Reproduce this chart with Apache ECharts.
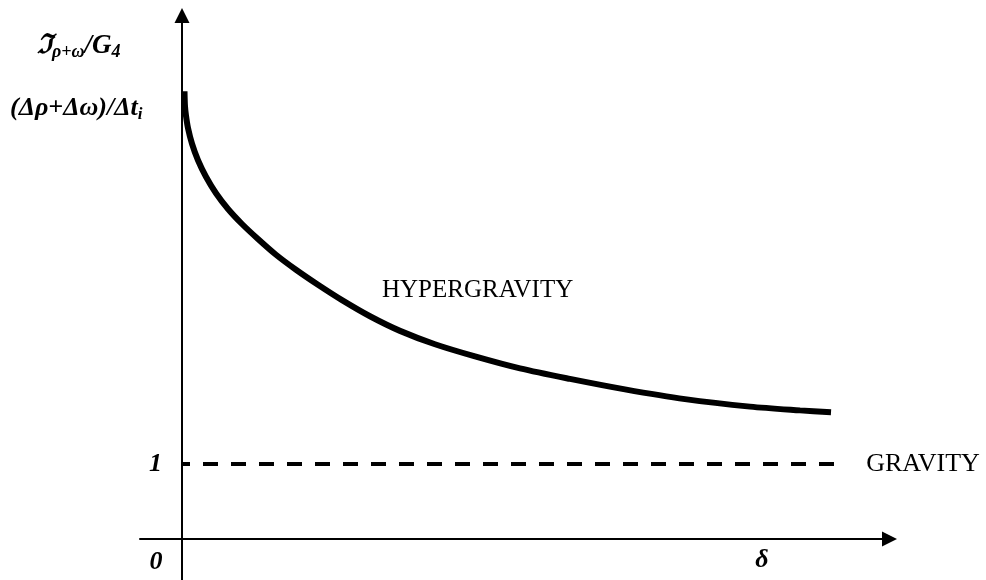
<!DOCTYPE html>
<html>
<head>
<meta charset="utf-8">
<script src="https://cdn.jsdelivr.net/npm/echarts@6/dist/echarts.min.js"></script>
<style>
  html, body { margin: 0; padding: 0; background: #fff; }
  #chart { width: 986px; height: 580px; }
</style>
</head>
<body>
<div id="chart"></div>
<script>
// Decay of the combined rate toward the gravity level as delta grows
const curveX = [0.0385, 0.046, 0.062, 0.092, 0.154, 0.246, 0.369, 0.523, 0.708, 0.923,
                1.169, 1.446, 1.754, 2.092, 2.462, 2.892, 3.354, 3.892, 4.508, 5.2,
                5.969, 6.815, 7.738, 8.738, 9.508, 9.985];
const curveY = [5.97, 5.77, 5.64, 5.48, 5.27, 5.05, 4.83, 4.61, 4.40, 4.20,
                4.00, 3.79, 3.59, 3.39, 3.185, 2.97, 2.775, 2.597, 2.435, 2.275,
                2.135, 1.995, 1.865, 1.765, 1.715, 1.69];

// Constant gravity level
const gravityX = [0, 10.05];
const gravityY = [1, 1];

const yTickValues = [1];
const yTickLabels = ['1'];

const SERIF = '"Liberation Serif", "Times New Roman", "DejaVu Serif", serif';

const chart = echarts.init(document.getElementById('chart'), null, { renderer: 'canvas' });

const axisCommon = {
  type: 'value',
  axisLine: {
    show: true,
    onZero: true,
    lineStyle: { color: '#000', width: 2 },
    symbol: ['none', 'triangle'],
    symbolSize: [15, 15]
  },
  axisTick: { show: false },
  splitLine: { show: false }
};

const biFont = { fontFamily: SERIF, fontStyle: 'italic', fontWeight: 'bold', color: '#000' };

chart.setOption({
  animation: false,
  backgroundColor: '#fff',
  grid: { left: 140, top: 15.5, right: 96.5, bottom: 0 },
  xAxis: Object.assign({}, axisCommon, {
    min: -0.6462, max: 10.8846,
    axisLabel: { show: false }
  }),
  yAxis: Object.assign({}, axisCommon, {
    min: -0.5467, max: 6.98,
    axisLabel: Object.assign({
      show: true,
      customValues: yTickValues,
      formatter: (v) => yTickLabels[yTickValues.indexOf(v)] || '',
      margin: -22,
      fontSize: 26
    }, biFont)
  }),
  series: [
    {
      type: 'line',
      data: curveX.map((x, i) => [x, curveY[i]]),
      smooth: 0.3,
      showSymbol: false,
      lineStyle: { color: '#000', width: 6, cap: 'butt' }
    },
    {
      type: 'line',
      data: gravityX.map((x, i) => [x, gravityY[i]]),
      showSymbol: false,
      lineStyle: { color: '#000', width: 4, type: [15, 13], dashOffset: 7, cap: 'butt' },
      endLabel: {
        show: true,
        formatter: 'GRAVITY',
        distance: 31,
        fontFamily: SERIF,
        fontSize: 26,
        color: '#000'
      }
    }
  ],
  graphic: [
    {
      type: 'text', left: 37, top: 33,
      style: {
        text: '{b|ℑ}{s|ρ+ω}{b|/G}{s|4}',
        rich: {
          b: Object.assign({ fontSize: 27, lineHeight: 29, verticalAlign: 'middle' }, biFont),
          s: Object.assign({ fontSize: 18, lineHeight: 17, verticalAlign: 'bottom' }, biFont)
        }
      }
    },
    {
      type: 'text', left: 10, top: 95,
      style: {
        text: '{b|(Δρ+Δω)/Δt}{s|i}',
        rich: {
          b: Object.assign({ fontSize: 26, lineHeight: 30, verticalAlign: 'middle' }, biFont),
          s: Object.assign({ fontSize: 17, lineHeight: 17, verticalAlign: 'bottom' }, biFont)
        }
      }
    },
    {
      type: 'text', x: 156, y: 562,
      style: Object.assign({ text: '0', fontSize: 26, align: 'center', verticalAlign: 'middle' }, biFont)
    },
    {
      type: 'text', x: 762, y: 560,
      style: Object.assign({ text: 'δ', fontSize: 26, align: 'center', verticalAlign: 'middle' }, biFont)
    },
    {
      type: 'text', x: 382, y: 290,
      style: { text: 'HYPERGRAVITY', fontFamily: SERIF, fontSize: 25, fill: '#000', align: 'left', verticalAlign: 'middle' }
    }
  ]
});
</script>
</body>
</html>
